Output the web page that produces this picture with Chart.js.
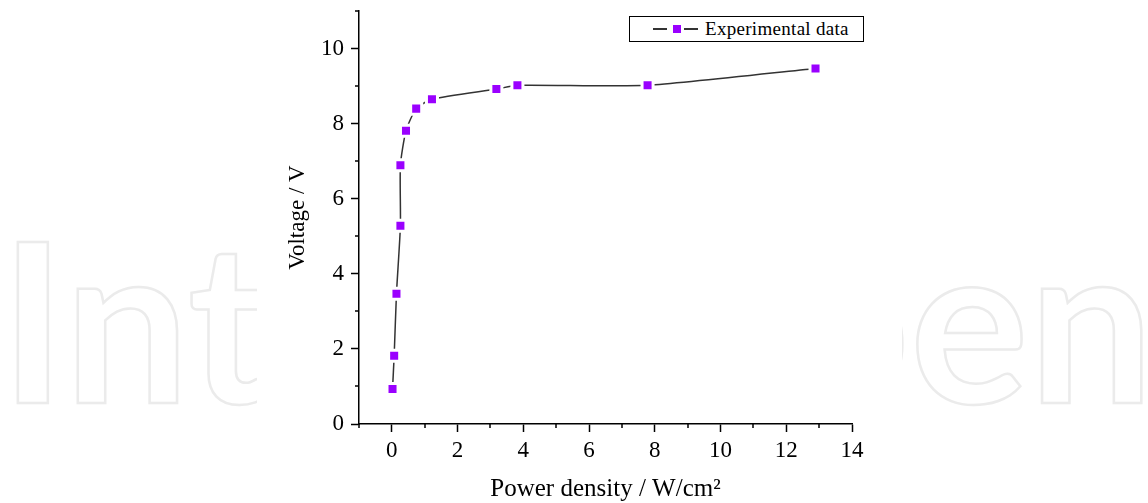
<!DOCTYPE html>
<html>
<head>
<meta charset="utf-8">
<script src="https://cdn.jsdelivr.net/npm/chart.js@4/dist/chart.umd.min.js"></script>
<style>
  html, body { margin:0; padding:0; background:#fff; }
  #wrap { position:relative; width:1148px; height:503px; }
  #leg { position:absolute; left:629px; top:16px; width:233px; height:24px; border:1px solid #000; background:#fff;
         font-family:'Liberation Serif',serif; font-size:19px; color:#000; }
  .leg-i { position:absolute; left:0; top:0; height:24px; line-height:24px; white-space:nowrap; }
  .leg-ln { position:absolute; top:11px; height:1.5px; background:#333; }
  .leg-sq { position:absolute; top:8px; left:43px; width:8px; height:8px; }
  .leg-tx { position:absolute; left:75px; top:0; letter-spacing:0.3px; }
</style>
</head>
<body>
<div id="wrap">
  <canvas id="c" width="1148" height="503"></canvas>
  <div id="leg"></div>
</div>
<script>
// ── data ──
const seriesLabel  = 'Experimental data';
const powerDensity = [0.02, 0.07, 0.14, 0.26, 0.26, 0.43, 0.74, 1.22, 3.18, 3.82, 7.78, 12.89]; // W/cm2
const voltage      = [0.93, 1.82, 3.47, 5.28, 6.89, 7.81, 8.40, 8.65, 8.92, 9.02, 9.02, 9.47];  // V
const xRange = [-1, 14];
const yRange = [0, 11];
const xTitle = 'Power density / W/cm\u00B2';
const yTitle = 'Voltage / V';

const markColor = '#9a00ff';
const lineColor = '#333333';
const serif = "'Liberation Serif', 'Times New Roman', serif";

// faint publisher watermark behind the plot
const watermark = {
  id: 'watermark',
  beforeDraw(chart) {
    const ctx = chart.ctx;
    ctx.save();
    ctx.font = "bold 222px Lato, 'Open Sans', sans-serif";
    ctx.textBaseline = 'alphabetic';
    ctx.strokeStyle = '#ebebeb';
    ctx.lineWidth = 2.5;
    ctx.strokeText('Int', 0, 403);
    const pw = ctx.measureText('p').width;
    ctx.strokeText('pen', 910 - pw, 403);
    ctx.fillStyle = '#fff';
    ctx.fillRect(257, 0, 645, 503);
    ctx.restore();
  }
};

// short ticks at odd values (Chart.js has no minor ticks)
const minorTicks = {
  id: 'minorTicks',
  afterDraw(chart) {
    const { ctx, scales: { x, y }, chartArea: a } = chart;
    ctx.save();
    ctx.strokeStyle = '#000'; ctx.lineWidth = 1.5;
    ctx.beginPath();
    x.ticks.forEach(t => { if (t.value % 2) { const p = Math.round(x.getPixelForValue(t.value)); ctx.moveTo(p, a.bottom); ctx.lineTo(p, a.bottom + 4); } });
    y.ticks.forEach(t => { if (t.value % 2) { const p = Math.round(y.getPixelForValue(t.value)); ctx.moveTo(a.left, p); ctx.lineTo(a.left - 4, p); } });
    ctx.stroke();
    ctx.restore();
  }
};

const pts = powerDensity.map((x, i) => ({ x, y: voltage[i] }));

const ds = {
  label: seriesLabel,
  data: pts,
  borderColor: lineColor, borderWidth: 1.5,
  tension: 0.2,
  pointStyle: 'rect', pointRadius: 7.8, pointHoverRadius: 7.8,
  pointBackgroundColor: markColor, pointBorderColor: '#fff', pointBorderWidth: 3,
  fill: false,
};

function axis(range, title, isX) {
  return {
    type: 'linear', min: range[0], max: range[1],
    grid: {
      drawOnChartArea: false, tickLength: 8, tickWidth: 1.5,
      tickColor: c => (c.tick && c.tick.value % 2) ? 'transparent' : '#000',
    },
    border: { display: true, color: '#000', width: 1.5 },
    ticks: {
      stepSize: 1, autoSkip: false, maxRotation: 0, padding: isX ? 5 : 7,
      color: '#000', font: { family: serif, size: 23 },
      callback: v => (v % 2 ? '' : String(v)),
    },
    title: {
      display: true, text: title, color: '#000',
      font: { family: serif, size: isX ? 25 : 23 },
      padding: isX ? { top: 0, bottom: -1 } : { top: 4, bottom: 0 },
    },
    afterFit: s => {
      if (isX) { s.height = 79; s.paddingLeft = 0; s.paddingRight = 0; }
      else { s.width = 79; s.paddingTop = 0; s.paddingBottom = 0; }
    },
  };
}

new Chart(document.getElementById('c'), {
  type: 'line',
  data: { datasets: [ds] },
  options: {
    responsive: false, animation: false,
    layout: { padding: { left: 280, right: 296, top: 11, bottom: 0 } },
    plugins: { legend: { display: false }, tooltip: { enabled: false } },
    scales: { x: axis(xRange, xTitle, true), y: axis(yRange, yTitle, false) },
  },
  plugins: [watermark, minorTicks],
});

// legend box: line – square – line, then label
document.getElementById('leg').innerHTML =
  `<div class="leg-i"><div class="leg-ln" style="left:23px;width:14px"></div>` +
  `<div class="leg-sq" style="background:${markColor}"></div>` +
  `<div class="leg-ln" style="left:54px;width:14px"></div>` +
  `<div class="leg-tx">${seriesLabel}</div></div>`;
</script>
</body>
</html>
